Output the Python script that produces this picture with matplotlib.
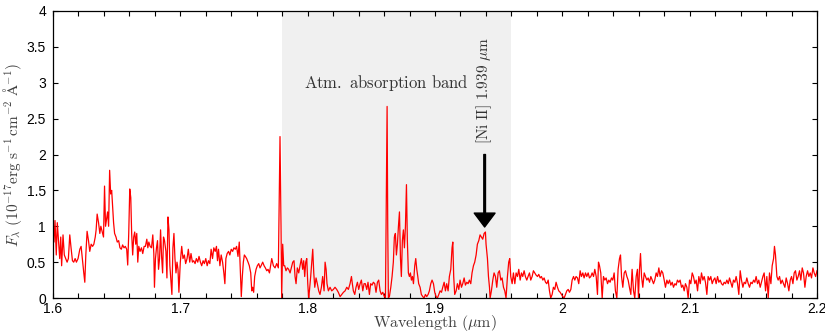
import numpy as np
import matplotlib
matplotlib.use("Agg")
import matplotlib.pyplot as plt
from matplotlib.ticker import MultipleLocator

plt.rcParams['mathtext.fontset'] = 'cm'
plt.rcParams['font.family'] = ['Liberation Sans', 'DejaVu Sans']

# spectrum, blue side (1.60 - 1.77 um)
wl_a = [1.6000, 1.6008, 1.6016, 1.6026, 1.6034, 1.6045, 1.6053, 1.6061, 1.6068, 1.6079,
        1.6089, 1.6100, 1.6111, 1.6121, 1.6132, 1.6142, 1.6153, 1.6163, 1.6174, 1.6184,
        1.6197, 1.6211, 1.6221, 1.6232, 1.6242, 1.6250, 1.6258, 1.6268, 1.6279, 1.6289,
        1.6300, 1.6311, 1.6321, 1.6332, 1.6339, 1.6347, 1.6358, 1.6368, 1.6376, 1.6387,
        1.6397, 1.6405, 1.6413, 1.6421, 1.6429, 1.6437, 1.6445, 1.6453, 1.6461, 1.6468,
        1.6476, 1.6484, 1.6495, 1.6505, 1.6516, 1.6526, 1.6537, 1.6547, 1.6558, 1.6568,
        1.6579, 1.6587, 1.6595, 1.6603, 1.6611, 1.6618, 1.6626, 1.6634, 1.6642, 1.6650,
        1.6658, 1.6666, 1.6674, 1.6684, 1.6695, 1.6705, 1.6716, 1.6726, 1.6737, 1.6745,
        1.6753, 1.6763, 1.6774, 1.6784, 1.6792, 1.6797, 1.6805, 1.6813, 1.6821, 1.6829,
        1.6837, 1.6845, 1.6853, 1.6861, 1.6868, 1.6876, 1.6887, 1.6895, 1.6903, 1.6911,
        1.6918, 1.6926, 1.6934, 1.6942, 1.6950, 1.6958, 1.6966, 1.6974, 1.6982, 1.6989,
        1.7000, 1.7011, 1.7021, 1.7032, 1.7042, 1.7053, 1.7063, 1.7074, 1.7084, 1.7095,
        1.7105, 1.7116, 1.7126, 1.7137, 1.7147, 1.7158, 1.7168, 1.7179, 1.7189, 1.7200,
        1.7211, 1.7221, 1.7232, 1.7242, 1.7253, 1.7263, 1.7274, 1.7284, 1.7292, 1.7300,
        1.7311, 1.7321, 1.7332, 1.7342, 1.7350, 1.7358, 1.7368, 1.7379, 1.7389, 1.7400,
        1.7411, 1.7421, 1.7432, 1.7442, 1.7453, 1.7463, 1.7471, 1.7479, 1.7487, 1.7495,
        1.7503, 1.7511, 1.7521, 1.7532, 1.7542, 1.7553, 1.7561, 1.7568, 1.7576, 1.7584,
        1.7595, 1.7605, 1.7616, 1.7626, 1.7637, 1.7647, 1.7658, 1.7668, 1.7679, 1.7689,
        1.7700]
fx_a = [0.88, 0.78, 1.08, 0.60, 1.05, 0.75, 0.55, 0.85, 0.45, 0.88,
        0.60, 0.55, 0.50, 0.55, 0.88, 0.70, 0.52, 0.50, 0.55, 0.50,
        0.55, 0.68, 0.72, 0.52, 0.35, 0.22, 0.60, 0.93, 0.80, 0.65,
        0.75, 0.72, 0.75, 0.85, 0.95, 1.17, 1.05, 0.90, 1.00, 0.92,
        0.85, 1.56, 1.00, 1.10, 1.20, 1.00, 1.78, 1.45, 1.50, 1.30,
        1.05, 0.90, 0.85, 0.78, 0.80, 0.70, 0.68, 0.74, 0.70, 0.72,
        0.68, 0.46, 0.90, 1.52, 1.40, 0.90, 0.60, 0.85, 0.92, 0.75,
        0.90, 0.50, 0.72, 0.65, 0.70, 0.62, 0.72, 0.72, 0.82, 0.70,
        0.78, 0.72, 0.70, 0.88, 0.62, 0.15, 0.55, 0.70, 0.80, 0.40,
        0.55, 0.95, 0.58, 0.35, 0.85, 0.80, 0.65, 0.28, 1.13, 0.95,
        0.45, 0.25, 0.05, 0.70, 0.90, 0.55, 0.35, 0.50, 0.40, 0.08,
        0.50, 0.72, 0.55, 0.60, 0.48, 0.55, 0.68, 0.50, 0.62, 0.50,
        0.52, 0.48, 0.55, 0.50, 0.58, 0.50, 0.45, 0.52, 0.48, 0.55,
        0.45, 0.52, 0.48, 0.68, 0.55, 0.70, 0.65, 0.72, 0.52, 0.68,
        0.45, 0.60, 0.50, 0.35, 0.20, 0.55, 0.62, 0.65, 0.60, 0.68,
        0.65, 0.70, 0.68, 0.72, 0.58, 0.78, 0.40, 0.02, 0.30, 0.50,
        0.60, 0.58, 0.55, 0.50, 0.45, 0.35, 0.10, 0.15, 0.08, 0.30,
        0.40, 0.45, 0.48, 0.42, 0.46, 0.50, 0.45, 0.42, 0.38, 0.40,
        0.35]

# inside the atmospheric band (1.77 - 1.96 um)
wl_b = [1.7718, 1.7731, 1.7744, 1.7757, 1.7770, 1.7778, 1.7783, 1.7791, 1.7796, 1.7804,
        1.7812, 1.7820, 1.7830, 1.7841, 1.7851, 1.7862, 1.7872, 1.7883, 1.7893, 1.7901,
        1.7909, 1.7919, 1.7930, 1.7940, 1.7951, 1.7961, 1.7969, 1.7977, 1.7985, 1.7993,
        1.8001, 1.8008, 1.8014, 1.8024, 1.8035, 1.8040, 1.8048, 1.8056, 1.8066, 1.8076,
        1.8087, 1.8097, 1.8108, 1.8118, 1.8129, 1.8137, 1.8145, 1.8152, 1.8163, 1.8176,
        1.8189, 1.8202, 1.8215, 1.8228, 1.8241, 1.8255, 1.8268, 1.8281, 1.8294, 1.8307,
        1.8320, 1.8333, 1.8344, 1.8351, 1.8359, 1.8370, 1.8380, 1.8391, 1.8401, 1.8412,
        1.8422, 1.8433, 1.8443, 1.8453, 1.8464, 1.8474, 1.8485, 1.8495, 1.8506, 1.8516,
        1.8527, 1.8537, 1.8548, 1.8558, 1.8569, 1.8579, 1.8590, 1.8600, 1.8611, 1.8618,
        1.8624, 1.8629, 1.8634, 1.8642, 1.8653, 1.8663, 1.8673, 1.8681, 1.8689, 1.8697,
        1.8705, 1.8713, 1.8721, 1.8729, 1.8736, 1.8744, 1.8752, 1.8760, 1.8768, 1.8776,
        1.8783, 1.8791, 1.8799, 1.8807, 1.8815, 1.8823, 1.8831, 1.8841, 1.8849, 1.8857,
        1.8865, 1.8872, 1.8883, 1.8893, 1.8904, 1.8914, 1.8925, 1.8935, 1.8946, 1.8956,
        1.8967, 1.8977, 1.8988, 1.8998, 1.9009, 1.9019, 1.9030, 1.9040, 1.9051, 1.9061,
        1.9072, 1.9082, 1.9092, 1.9103, 1.9113, 1.9124, 1.9134, 1.9140, 1.9147, 1.9155,
        1.9166, 1.9176, 1.9187, 1.9197, 1.9208, 1.9218, 1.9229, 1.9239, 1.9250, 1.9260,
        1.9270, 1.9281, 1.9291, 1.9302, 1.9312, 1.9323, 1.9333, 1.9344, 1.9354, 1.9365,
        1.9375, 1.9386, 1.9396, 1.9401, 1.9412, 1.9420, 1.9428, 1.9433, 1.9443, 1.9454,
        1.9464, 1.9475, 1.9485, 1.9496, 1.9506, 1.9517, 1.9527, 1.9538, 1.9548, 1.9558,
        1.9569, 1.9579, 1.9587]
fx_b = [0.55, 0.45, 0.42, 0.48, 0.42, 1.50, 2.25, 1.00, 0.00, 0.75,
        0.45, 0.45, 0.38, 0.42, 0.40, 0.35, 0.42, 0.50, 0.52, 0.30,
        0.20, 0.42, 0.35, 0.45, 0.55, 0.40, 0.52, 0.30, 0.50, 0.55,
        0.20, 0.00, 0.10, 0.30, 0.55, 0.68, 0.35, 0.15, 0.28, 0.20,
        0.10, 0.05, 0.15, 0.30, 0.10, 0.50, 0.40, 0.20, 0.10, 0.15,
        0.10, 0.12, 0.15, 0.12, 0.08, 0.02, 0.05, 0.08, 0.10, 0.15,
        0.12, 0.20, 0.30, 0.20, 0.10, 0.05, 0.15, 0.22, 0.12, 0.20,
        0.25, 0.10, 0.20, 0.20, 0.12, 0.22, 0.05, 0.20, 0.18, 0.22,
        0.20, 0.08, 0.22, 0.25, 0.10, 0.05, 0.08, 0.03, 0.00, 1.50,
        2.67, 1.00, 0.00, 0.02, 0.15, 0.30, 0.50, 0.85, 0.90, 0.60,
        0.75, 1.00, 1.20, 0.55, 0.30, 0.80, 0.95, 0.70, 1.00, 1.58,
        0.80, 0.35, 0.30, 0.35, 0.25, 0.30, 0.20, 0.45, 0.55, 0.40,
        0.30, 0.20, 0.15, 0.05, 0.02, 0.00, 0.05, 0.02, 0.05, 0.10,
        0.20, 0.25, 0.20, 0.08, 0.02, 0.00, 0.05, 0.10, 0.08, 0.15,
        0.22, 0.10, 0.20, 0.10, 0.30, 0.40, 0.70, 0.78, 0.30, 0.05,
        0.10, 0.20, 0.12, 0.25, 0.15, 0.20, 0.28, 0.18, 0.22, 0.20,
        0.25, 0.20, 0.35, 0.45, 0.50, 0.60, 0.75, 0.80, 0.88, 0.85,
        0.82, 0.90, 0.92, 0.75, 0.55, 0.30, 0.15, 0.00, 0.10, 0.25,
        0.35, 0.30, 0.15, 0.35, 0.38, 0.25, 0.28, 0.15, 0.10, 0.00,
        0.30, 0.50, 0.55]

# red side (1.96 - 2.20 um)
wl_c = [1.9595, 1.9606, 1.9616, 1.9627, 1.9637, 1.9648, 1.9658, 1.9669, 1.9679, 1.9689,
        1.9700, 1.9710, 1.9721, 1.9731, 1.9742, 1.9752, 1.9763, 1.9773, 1.9784, 1.9794,
        1.9805, 1.9815, 1.9826, 1.9836, 1.9847, 1.9857, 1.9868, 1.9878, 1.9889, 1.9899,
        1.9909, 1.9920, 1.9930, 1.9941, 1.9951, 1.9962, 1.9972, 1.9983, 1.9993, 2.0004,
        2.0014, 2.0025, 2.0035, 2.0046, 2.0056, 2.0067, 2.0077, 2.0088, 2.0098, 2.0108,
        2.0119, 2.0129, 2.0140, 2.0150, 2.0161, 2.0171, 2.0182, 2.0192, 2.0203, 2.0213,
        2.0224, 2.0234, 2.0245, 2.0255, 2.0266, 2.0276, 2.0284, 2.0292, 2.0302, 2.0313,
        2.0323, 2.0334, 2.0344, 2.0355, 2.0365, 2.0375, 2.0386, 2.0396, 2.0407, 2.0417,
        2.0428, 2.0438, 2.0449, 2.0457, 2.0465, 2.0475, 2.0486, 2.0496, 2.0507, 2.0517,
        2.0527, 2.0538, 2.0548, 2.0559, 2.0569, 2.0580, 2.0590, 2.0598, 2.0606, 2.0614,
        2.0622, 2.0632, 2.0643, 2.0653, 2.0664, 2.0674, 2.0685, 2.0695, 2.0706, 2.0716,
        2.0726, 2.0737, 2.0747, 2.0758, 2.0768, 2.0779, 2.0789, 2.0800, 2.0810, 2.0821,
        2.0831, 2.0842, 2.0852, 2.0863, 2.0873, 2.0884, 2.0894, 2.0904, 2.0915, 2.0925,
        2.0936, 2.0946, 2.0957, 2.0967, 2.0978, 2.0988, 2.0999, 2.1009, 2.1020, 2.1030,
        2.1041, 2.1051, 2.1062, 2.1072, 2.1083, 2.1093, 2.1104, 2.1114, 2.1124, 2.1135,
        2.1145, 2.1156, 2.1166, 2.1177, 2.1187, 2.1198, 2.1208, 2.1219, 2.1229, 2.1240,
        2.1250, 2.1261, 2.1271, 2.1282, 2.1292, 2.1303, 2.1313, 2.1323, 2.1334, 2.1344,
        2.1355, 2.1365, 2.1376, 2.1386, 2.1397, 2.1407, 2.1418, 2.1428, 2.1439, 2.1449,
        2.1460, 2.1470, 2.1481, 2.1491, 2.1502, 2.1512, 2.1522, 2.1533, 2.1543, 2.1554,
        2.1564, 2.1575, 2.1585, 2.1596, 2.1606, 2.1617, 2.1627, 2.1638, 2.1648, 2.1659,
        2.1666, 2.1674, 2.1685, 2.1695, 2.1706, 2.1716, 2.1727, 2.1737, 2.1748, 2.1758,
        2.1769, 2.1779, 2.1790, 2.1800, 2.1811, 2.1821, 2.1831, 2.1842, 2.1852, 2.1863,
        2.1873, 2.1884, 2.1894, 2.1905, 2.1915, 2.1926, 2.1936, 2.1947, 2.1957, 2.1968,
        2.1978, 2.1989, 2.2000]
fx_c = [0.30, 0.20, 0.35, 0.20, 0.35, 0.30, 0.40, 0.25, 0.35, 0.30,
        0.38, 0.30, 0.25, 0.30, 0.35, 0.25, 0.30, 0.38, 0.35, 0.32,
        0.30, 0.33, 0.28, 0.30, 0.25, 0.28, 0.22, 0.20, 0.25, 0.10,
        0.00, 0.05, 0.15, 0.12, 0.22, 0.15, 0.10, 0.08, 0.05, 0.02,
        0.00, 0.05, 0.10, 0.12, 0.08, 0.12, 0.25, 0.30, 0.25, 0.30,
        0.28, 0.20, 0.38, 0.30, 0.35, 0.28, 0.35, 0.30, 0.35, 0.28,
        0.30, 0.35, 0.30, 0.40, 0.30, 0.05, 0.50, 0.45, 0.35, 0.00,
        0.30, 0.25, 0.28, 0.20, 0.25, 0.22, 0.28, 0.25, 0.35, 0.10,
        0.00, 0.40, 0.55, 0.60, 0.30, 0.15, 0.35, 0.38, 0.30, 0.25,
        0.15, 0.05, 0.40, 0.10, 0.00, 0.30, 0.40, 0.00, 0.40, 0.62,
        0.30, 0.15, 0.35, 0.30, 0.25, 0.28, 0.22, 0.30, 0.25, 0.20,
        0.25, 0.35, 0.30, 0.42, 0.30, 0.38, 0.35, 0.25, 0.15, 0.25,
        0.20, 0.25, 0.18, 0.22, 0.15, 0.20, 0.18, 0.25, 0.22, 0.25,
        0.15, 0.18, 0.10, 0.20, 0.15, 0.00, 0.25, 0.20, 0.35, 0.30,
        0.20, 0.25, 0.10, 0.30, 0.20, 0.35, 0.25, 0.30, 0.22, 0.05,
        0.30, 0.25, 0.30, 0.20, 0.25, 0.28, 0.20, 0.30, 0.22, 0.25,
        0.20, 0.18, 0.22, 0.20, 0.25, 0.20, 0.28, 0.22, 0.15, 0.25,
        0.22, 0.30, 0.20, 0.05, 0.38, 0.25, 0.15, 0.22, 0.20, 0.28,
        0.20, 0.15, 0.22, 0.20, 0.25, 0.22, 0.30, 0.20, 0.25, 0.15,
        0.22, 0.30, 0.35, 0.10, 0.30, 0.00, 0.35, 0.20, 0.45, 0.55,
        0.72, 0.60, 0.30, 0.25, 0.30, 0.20, 0.25, 0.20, 0.15, 0.28,
        0.20, 0.10, 0.25, 0.30, 0.20, 0.35, 0.38, 0.25, 0.30, 0.38,
        0.25, 0.42, 0.35, 0.15, 0.30, 0.38, 0.30, 0.35, 0.28, 0.42,
        0.35, 0.30, 0.38]

band = (1.78, 1.96)
ni_line = 1.939

wl = np.array(wl_a + wl_b + wl_c)
fx = np.array(fx_a + fx_b + fx_c)

fig = plt.figure(figsize=(8.25, 3.33), dpi=100)
ax = fig.add_axes([0.0642, 0.105, 0.9261, 0.862])

ax.axvspan(band[0], band[1], color='#f0f0f0', lw=0, zorder=0)
ax.plot(wl, fx, color='red', lw=0.9, zorder=2)

ax.annotate('', xy=(ni_line, 0.99), xytext=(ni_line, 2.0),
            arrowprops=dict(facecolor='black', edgecolor='black', width=1.2,
                            headwidth=15, headlength=10), zorder=3)
ax.text(ni_line, 2.15, r'$\mathrm{[Ni\ II]\ 1.939}\ \mu\mathrm{m}$', rotation=90,
        ha='center', va='bottom', fontsize=11, color='#333333')
ax.text(1.862, 3.0, r'$\mathrm{Atm.\ absorption\ band}$', ha='center', va='center',
        fontsize=12, color='#333333')

ax.set_xlim(1.6, 2.2)
ax.set_ylim(0, 4)
ax.xaxis.set_major_locator(MultipleLocator(0.1))
ax.xaxis.set_minor_locator(MultipleLocator(0.02))
ax.yaxis.set_major_locator(MultipleLocator(0.5))
ax.set_xticklabels([f'{v:g}' for v in ax.get_xticks()])
ax.set_yticklabels([f'{v:g}' for v in ax.get_yticks()])
ax.tick_params(which='both', direction='in', top=True, right=True,
               length=3.5, width=0.8, labelsize=10)
ax.tick_params(axis='x', pad=3)
ax.tick_params(axis='y', pad=5)

ax.set_xlabel(r'$\mathrm{Wavelength}\ (\mu\mathrm{m})$', fontsize=11.5,
              color='#404040', labelpad=-2)
ax.set_ylabel(r'$F_\lambda\ (10^{-17}\mathrm{erg\ s^{-1}\,cm^{-2}\ \AA^{-1}})$',
              fontsize=11, color='#404040', labelpad=2)
for s in ax.spines.values():
    s.set_linewidth(0.9)

fig.savefig('out.png', dpi=100)
